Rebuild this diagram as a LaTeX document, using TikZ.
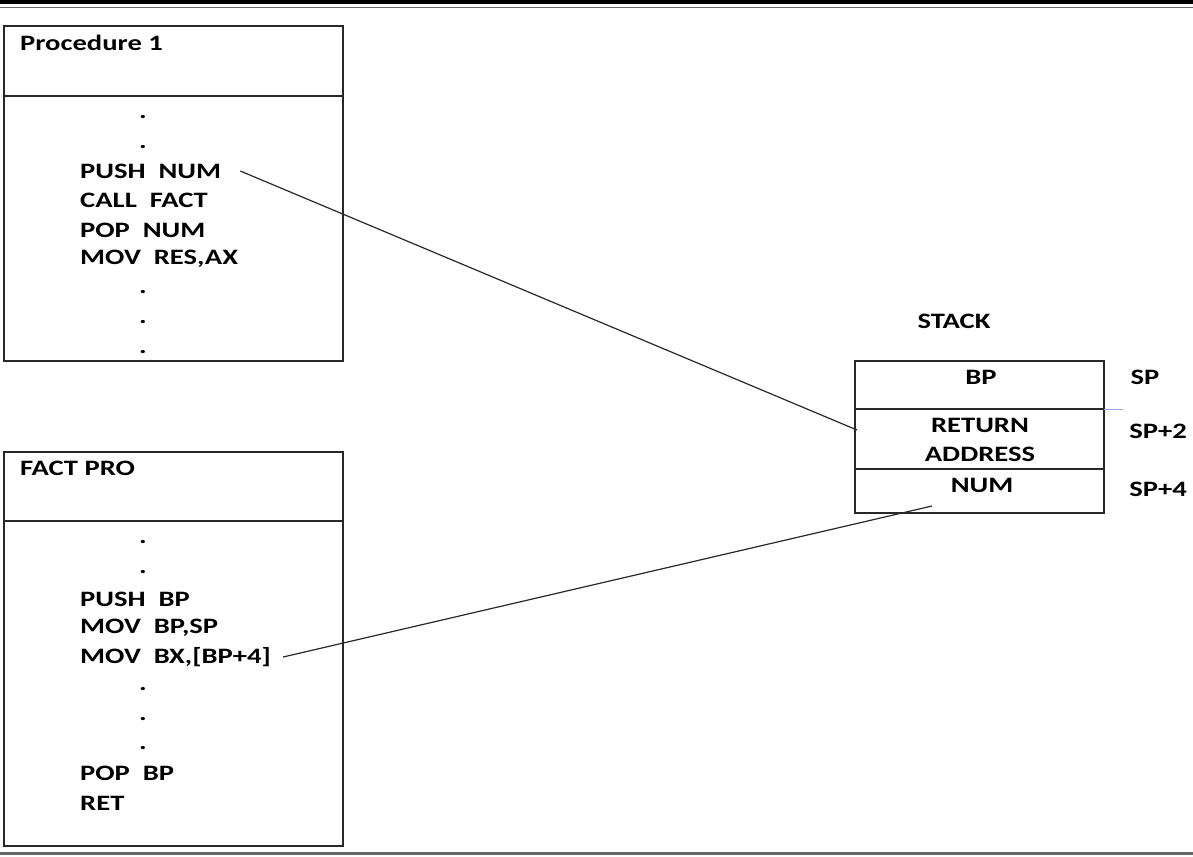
\documentclass[tikz,border=0pt]{standalone}
\usepackage{fontspec}
\setmainfont[FakeStretch=1.3]{Carlito}
\usetikzlibrary{positioning}
\definecolor{edge}{RGB}{40,40,40}
\definecolor{tick}{RGB}{150,170,220}

\tikzset{
  box/.style={draw=edge, line width=1.6pt},
  code/.style={anchor=west, inner sep=0pt, font=\fontsize{22}{26}\selectfont\bfseries},
  dot/.style={inner sep=0pt, font=\fontsize{22}{26}\selectfont\bfseries},
  label/.style={inner sep=0pt, font=\fontsize{22}{26}\selectfont\bfseries},
  link/.style={draw=edge, line width=1.2pt}
}

\begin{document}
\begin{tikzpicture}[x=1pt, y=-1pt]
		\useasboundingbox (0,0) rectangle (1193,856);

		% Page rules
		\draw[line width=4pt] (0,2) -- (1193,2);
		\draw[line width=1.5pt, black!60] (0,7.5) -- (1193,7.5);
		\draw[line width=3pt, black!60] (0,853) -- (1193,853);

		% Procedure 1 panel
		\draw[box] (4,26) rectangle (343,361);
		\draw[box] (4,96) -- (343,96);
		\node[code] (proc) at (20,43) {Procedure 1};
		\node[dot] (pd1) at (143,117) {.};
		\node[dot] (pd2) at (143,147) {.};
		\node[code] (pushnum) at (80,171) {PUSH\ \ NUM};
		\node[code] (callfact) at (80,200) {CALL\ \ FACT};
		\node[code] (popnum) at (80,230) {POP\ \ NUM};
		\node[code] (movres) at (80,259) {MOV\ \ RES,AX};
		\node[dot] (pd3) at (143,292) {.};
		\node[dot] (pd4) at (143,322) {.};
		\node[dot] (pd5) at (143,352) {.};

		% FACT PRO panel
		\draw[box] (4,452) rectangle (343,846);
		\draw[box] (4,521) -- (343,521);
		\node[code] (fact) at (20,468) {FACT PRO};
		\node[dot] (fd1) at (143,542) {.};
		\node[dot] (fd2) at (143,572) {.};
		\node[code] (pushbp) at (80,599) {PUSH\ \ BP};
		\node[code] (movbp) at (80,628) {MOV\ \ BP,SP};
		\node[code] (movbx) at (80,657) {MOV\ \ BX,[BP+4]};
		\node[dot] (fd3) at (143,689) {.};
		\node[dot] (fd4) at (143,719) {.};
		\node[dot] (fd5) at (143,748) {.};
		\node[code] (popbp) at (80,773) {POP\ \ BP};
		\node[code] (ret) at (80,803) {RET};

		% Stack
		\node[label] (stack) at (954,321) {STACK};
		\draw[box] (855,361) rectangle (1104,513);
		\draw[box] (855,409) -- (1104,409);
		\draw[box] (855,469) -- (1104,469);
		\draw[line width=0.8pt, tick] (1104,409) -- (1123,409);
		\node[label] (bp) at (981,377) {BP};
		\node[label] (retl) at (980,425) {RETURN};
		\node[label] (addr) at (980,454) {ADDRESS};
		\node[label] (num) at (982,485) {NUM};
		\node[label] (sp) at (1145,377) {SP};
		\node[label] (sp2) at (1158,431) {SP+2};
		\node[label] (sp4) at (1158,489) {SP+4};

		% Links
		\coordinate (retin) at (857,430);
		\coordinate (numin) at (932,506);
		\draw[link] ([xshift=19pt]pushnum.east) -- (retin);
		\draw[link] ([xshift=12pt]movbx.east) -- (numin);
	\end{tikzpicture}
\end{document}
